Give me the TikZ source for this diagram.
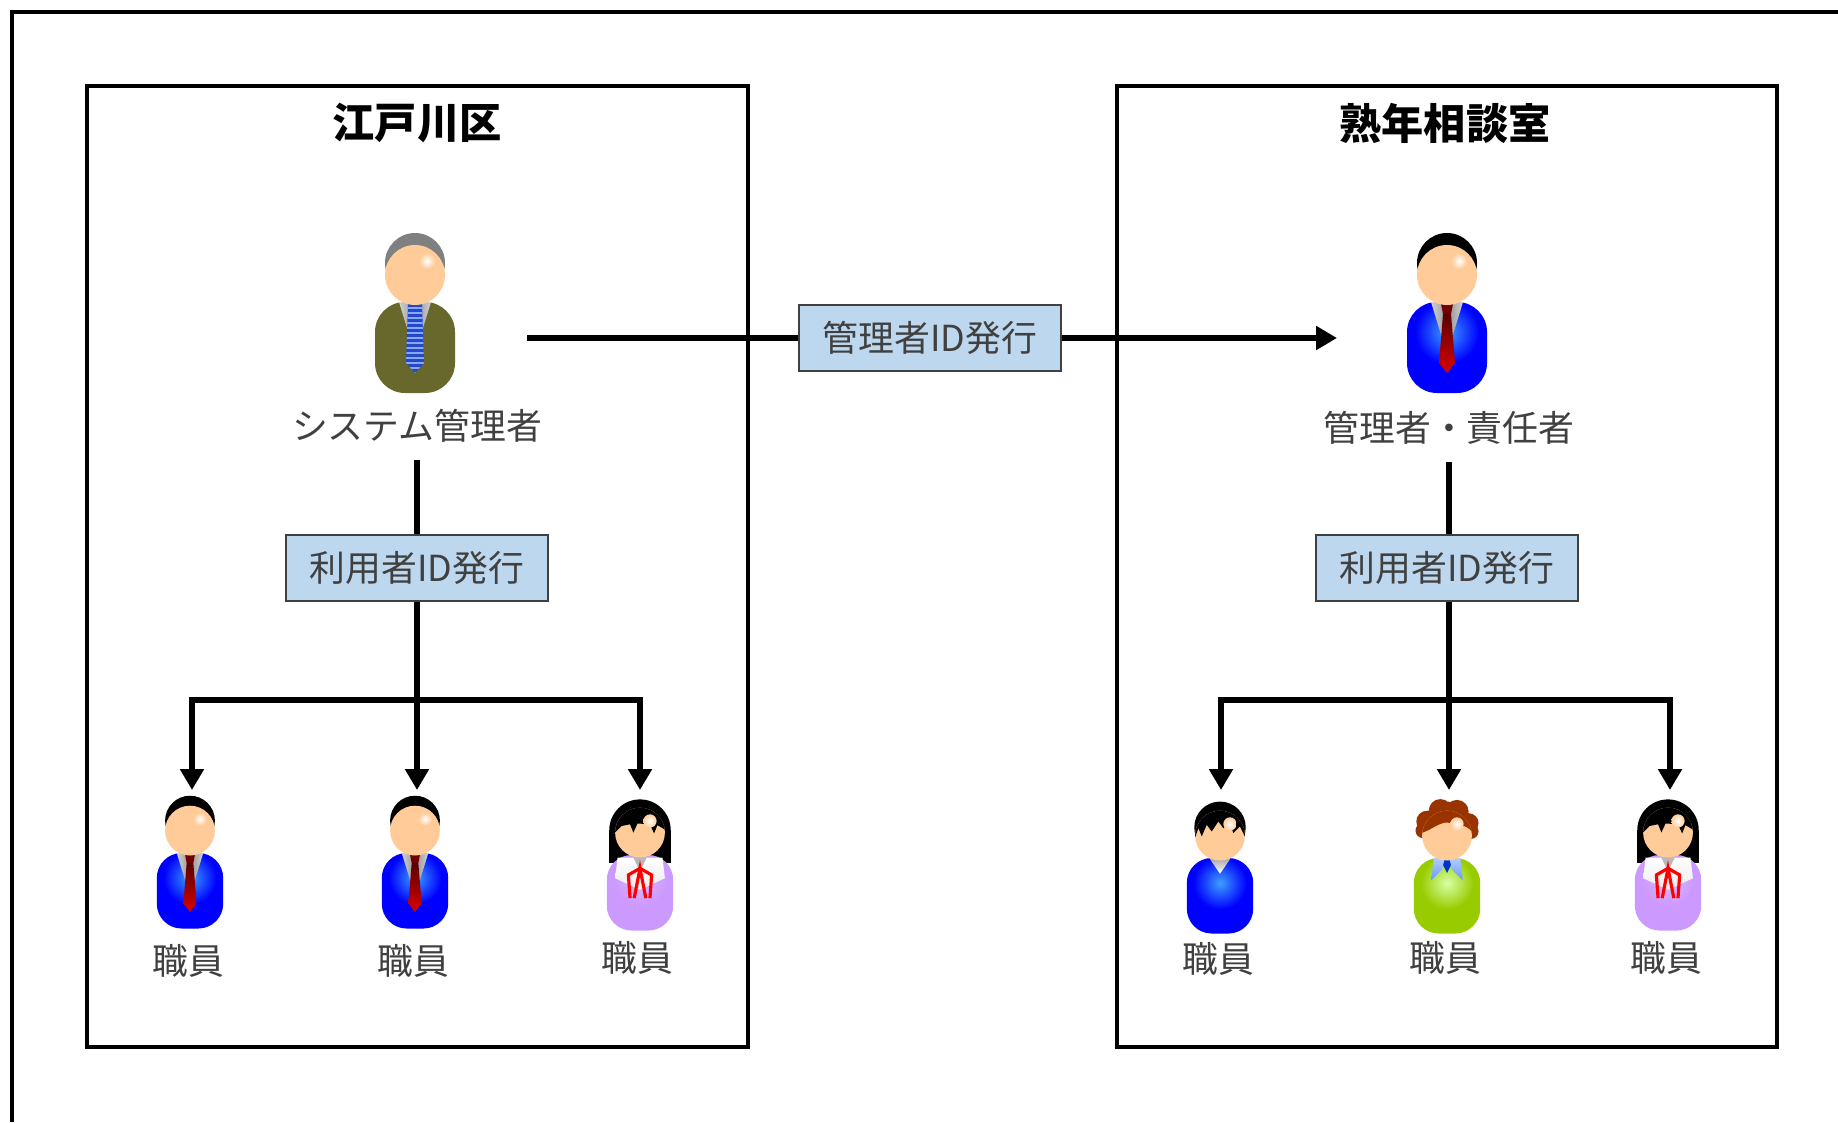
\documentclass[tikz,border=0pt]{standalone}
\usepackage{fontspec}
\setmainfont{Noto Sans CJK JP}
\usetikzlibrary{arrows.meta}

\definecolor{skin}{RGB}{255,204,153}
\definecolor{hairgray}{RGB}{128,128,128}
\definecolor{hairbrown}{RGB}{153,51,0}
\definecolor{suitblue}{RGB}{0,0,255}
\definecolor{suitglow}{RGB}{60,160,255}
\definecolor{suitolive}{RGB}{104,104,44}
\definecolor{lilac}{RGB}{204,153,255}
\definecolor{leaf}{RGB}{153,204,0}
\definecolor{leafglow}{RGB}{215,255,165}
\definecolor{tienavy}{RGB}{40,70,200}
\definecolor{tiestripe}{RGB}{130,170,255}
\definecolor{collarblue}{RGB}{102,153,255}
\definecolor{collardark}{RGB}{0,51,204}
\definecolor{idblue}{RGB}{189,215,238}
\definecolor{ink}{RGB}{64,64,64}

% body of a figure, 80 wide and 91 high, hanging from (0,0)
\def\torso{(-10,0) -- (10,0) .. controls (26.6,0) and (40,13.4) .. (40,30)
  -- (40,61) .. controls (40,77.6) and (26.6,91) .. (10,91)
  -- (-10,91) .. controls (-26.6,91) and (-40,77.6) .. (-40,61)
  -- (-40,30) .. controls (-40,13.4) and (-26.6,0) .. (-10,0) -- cycle}
\def\tieknot{(-6,2) -- (6,2) -- (4,12) -- (-4,12) -- cycle}
\def\tieblade{(-4,12) -- (4,12) -- (8,61) -- (0,71) -- (-8,61) -- cycle}
\def\stripeblade{(-7,2) -- (7,2) -- (9,61) -- (0,71) -- (-9,61) -- cycle}
\def\headline{(0,-27) circle (30)}

% parts shared by the figures
\newcommand{\drawface}{\fill[skin] \headline;}
\newcommand{\drawshine}{%
  \shade[inner color=white, outer color=skin] (12,-41) circle (8);}
\newcommand{\drawcoat}[2]{%
  \fill[#1] \torso;
  \begin{scope}
    \clip \torso;
    \shade[inner color=#2, outer color=#1] (0,30) circle (32);
  \end{scope}}
\newcommand{\drawcollar}{%
  \shade[left color=gray!35, right color=gray!35, middle color=gray!85]
    (-16,0) -- (16,0) -- (0,52) -- cycle;}

\tikzset{
  region/.style={draw=black, line width=1.3pt},
  title/.style={inner sep=0pt, font=\fontsize{12}{14}\selectfont\bfseries},
  who/.style={inner sep=0pt, text=ink, font=\fontsize{10.2}{12}\selectfont},
  idbox/.style={draw=black!75, fill=idblue, line width=0.45pt, text=ink,
    minimum width=26.2mm, minimum height=6.6mm, inner sep=0pt,
    font=\fontsize{10.2}{12}\selectfont},
  wire/.style={line width=1.85pt},
  arr/.style={wire, -{Triangle[length=2.1mm,width=2.3mm]}},
  % figures
  pics/chief/.style={code={
    \fill[hairgray] (0,-39) circle (30);
    \drawcoat{suitolive}{suitolive}
    \drawcollar
    \fill[tienavy] \stripeblade;
    \begin{scope}
      \clip \stripeblade;
      \foreach \y in {6,11,...,71}
        \draw[tiestripe, line width=0.6pt] (-10,\y) -- (10,\y);
    \end{scope}
    \drawface \drawshine}},
  pics/suit/.style={code={
    \fill[black] (0,-39) circle (30);
    \drawcoat{suitblue}{suitglow}
    \drawcollar
    \fill[red!45!black] \tieknot;
    \shade[top color=red!35!black, bottom color=red!85!black] \tieblade;
    \drawface \drawshine}},
  pics/lad/.style={code={
    \fill[black] (0,-37) circle (31);
    \drawcoat{suitblue}{suitglow}
    \shade[top color=gray!70, bottom color=white] (-13,0) -- (13,0) -- (0,19) -- cycle;
    \drawface
    \begin{scope}
      \clip \headline;
      \fill[black] (-31,-60) -- (31,-60) -- (31,-24) -- (24,-38) -- (16,-30)
        -- (12,-42) -- (4,-36) -- (-2,-44) -- (-10,-32) -- (-16,-40)
        -- (-22,-26) -- (-26,-36) -- (-31,-22) -- cycle;
    \end{scope}
    \drawshine}},
  pics/lady/.style={code={
    \fill[black] (0,-30) circle (37);
    \fill[black] (-37,-30) rectangle (37,10);
    \drawcoat{lilac}{lilac!70!white}
    \shade[top color=white, bottom color=gray!15]
      (-27,3) -- (27,3) -- (30,28) -- (0,42) -- (-30,28) -- cycle;
    \fill[gray!55] (-9,1) -- (9,1) -- (0,20) -- cycle;
    \draw[red, line width=0.9pt] (-12,52) -- (-14,24) -- (0,16) -- (14,24) -- (12,52);
    \draw[red, line width=0.9pt] (-7,52) -- (0,16) -- (7,52);
    \drawface
    \begin{scope}
      \clip \headline;
      \fill[black] (-31,-60) -- (31,-60) -- (31,-30) -- (21,-36) -- (17,-26)
        -- (12,-37) -- (-3,-38) -- (-8,-27) -- (-12,-37) -- (-22,-35)
        -- (-31,-26) -- cycle;
    \end{scope}
    \drawshine}},
  pics/greenman/.style={code={
    \fill[hairbrown] (0,-40) circle (28) (-24,-44) circle (13) (-8,-57) circle (14)
      (12,-56) circle (14) (26,-42) circle (12) (-29,-33) circle (9) (29,-32) circle (9);
    \drawcoat{leaf}{leafglow}
    \fill[collardark] (-9,0) -- (9,0) -- (0,18) -- cycle;
    \shade[top color=collarblue!50!white, bottom color=collarblue]
      (-16,0) -- (-3,1) -- (-6,14) -- (-19,27) -- cycle;
    \shade[top color=collarblue!50!white, bottom color=collarblue]
      (16,0) -- (3,1) -- (6,14) -- (19,27) -- cycle;
    \drawface
    \begin{scope}
      \clip \headline;
      \fill[hairbrown] (-31,-60) -- (31,-60) -- (31,-30)
        .. controls (22,-44) and (12,-36) .. (4,-42)
        .. controls (-6,-46) and (-18,-34) .. (-31,-30) -- cycle;
    \end{scope}
    \drawshine}},
}

\begin{document}
\begin{tikzpicture}[x=0.1mm, y=-0.1mm]
  \useasboundingbox (0,0) rectangle (1838,1122);
  % page frame, its right and bottom edges lie off the page
  \draw[line width=1.3pt] (12,1122) -- (12,12) -- (1838,12);

  \draw[region] (87,86) rectangle (748,1047);
  \draw[region] (1117,86) rectangle (1777,1047);
  \node[title] (ward)   at (417,123)  {江戸川区};
  \node[title] (office) at (1445,123) {熟年相談室};

  % the two administrators
  \pic at (415,302) {chief};
  \pic at (1447,302) {suit};
  \node[who] (sysadm) at (417,426)  {システム管理者};
  \node[who] (mgr)    at (1449,428) {管理者・責任者};

  % staff
  \pic[scale=0.83] at (190,853)  {suit};
  \pic[scale=0.83] at (415,853)  {suit};
  \pic[scale=0.83] at (640,855)  {lady};
  \pic[scale=0.83] at (1220,858) {lad};
  \pic[scale=0.83] at (1447,858) {greenman};
  \pic[scale=0.83] at (1668,855) {lady};
  \node[who] (lw1) at (188,961)  {職員};
  \node[who] (lw2) at (413,961)  {職員};
  \node[who] (lw3) at (637,958)  {職員};
  \node[who] (rw1) at (1218,959) {職員};
  \node[who] (rw2) at (1445,958) {職員};
  \node[who] (rw3) at (1666,958) {職員};

  % admin ID
  \coordinate (from) at (527,338);
  \coordinate (to)   at (1337,338);
  \node[idbox] (adminid) at (930,338) {管理者ID発行};
  \draw[wire] (from) -- (adminid);
  \draw[arr] (adminid) -- (to);

  % user IDs, left
  \node[idbox] (userid1) at (417,568) {利用者ID発行};
  \coordinate (fork1) at (417,700);
  \coordinate (la1) at (192,790);
  \coordinate (la2) at (417,790);
  \coordinate (la3) at (640,790);
  \draw[wire, shorten <=1.7mm] (sysadm) -- (userid1);
  \draw[wire] (userid1) -- (fork1);
  \draw[arr] (fork1) -| (la1);
  \draw[arr] (fork1) -- (la2);
  \draw[arr] (fork1) -| (la3);

  % user IDs, right
  \node[idbox] (userid2) at (1447,568) {利用者ID発行};
  \coordinate (fork2) at (1449,700);
  \coordinate (ra1) at (1221,790);
  \coordinate (ra2) at (1449,790);
  \coordinate (ra3) at (1670,790);
  \draw[wire, shorten <=1.7mm] (mgr) -- (mgr |- userid2.north);
  \draw[wire] (mgr |- userid2.south) -- (fork2);
  \draw[arr] (fork2) -| (ra1);
  \draw[arr] (fork2) -- (ra2);
  \draw[arr] (fork2) -| (ra3);
\end{tikzpicture}
\end{document}
